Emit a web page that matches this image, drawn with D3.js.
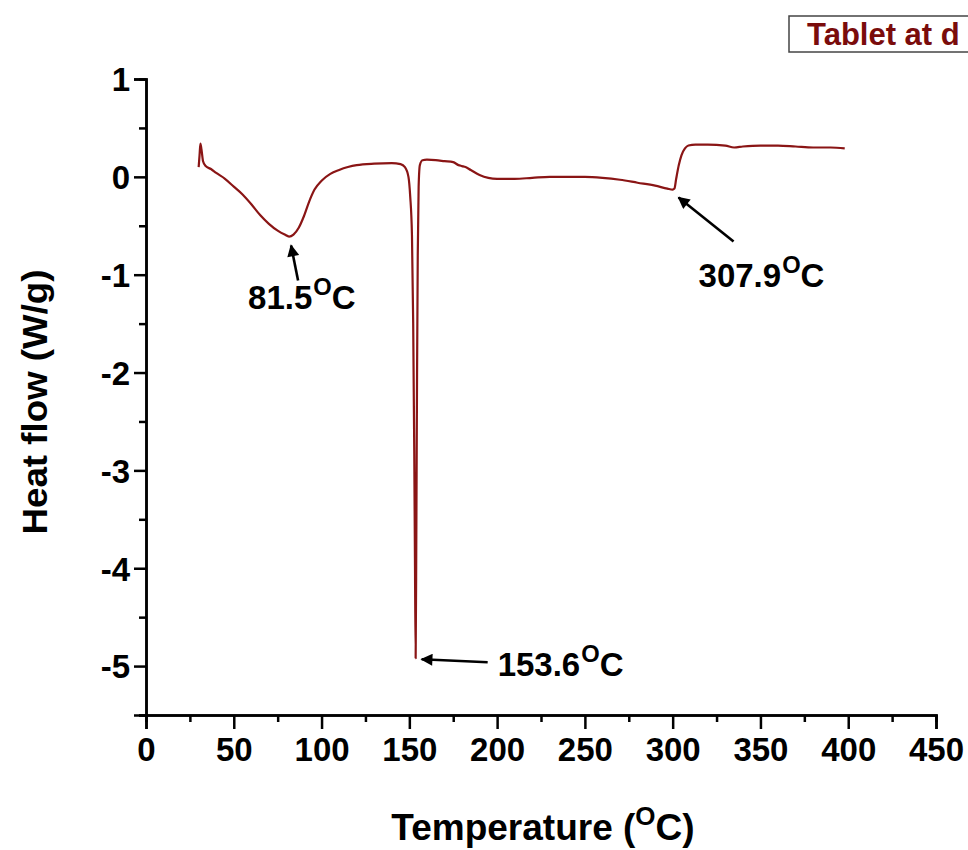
<!DOCTYPE html>
<html>
<head>
<meta charset="utf-8">
<script src="https://cdn.jsdelivr.net/npm/d3@7"></script>
<style>
  html, body { margin: 0; padding: 0; background: #fff; }
  svg { display: block; font-family: "Liberation Sans", Arial, sans-serif; font-weight: bold; }
</style>
</head>
<body>
<svg id="chart" width="968" height="850"></svg>
<script>
// DSC thermogram: heat flow vs temperature
const temperature = [
  30.0, 30.5, 31.0, 31.6, 32.5, 34.0, 37, 40, 45, 50, 55, 60, 65, 70, 75, 79, 81.5, 84, 87, 90,
  93, 96, 100, 105, 110, 115, 120, 130, 140, 145, 147.5, 149.5, 150.5, 151.5, 152.2, 152.8, 153.2,
  153.6, 154.0, 154.4, 154.8, 155.3, 156.0, 157.5, 160, 165, 170, 175, 178, 180, 182, 185, 190,
  195, 200, 210, 220, 230, 240, 250, 260, 270, 280, 290, 297, 300, 301, 302, 303.5, 305, 307,
  309, 313, 320, 330, 335, 340, 350, 360, 370, 380, 390, 398
];
const heatFlow = [
  0.10, 0.22, 0.34, 0.28, 0.16, 0.11, 0.08, 0.04, -0.02, -0.10, -0.18, -0.28, -0.39, -0.48, -0.55,
  -0.59, -0.61, -0.59, -0.52, -0.40, -0.25, -0.13, -0.04, 0.03, 0.07, 0.10, 0.12, 0.135, 0.14, 0.13,
  0.10, 0.0, -0.2, -0.6, -1.5, -2.8, -3.9, -4.92, -3.6, -2.0, -0.8, -0.1, 0.12, 0.17, 0.175, 0.17,
  0.16, 0.15, 0.12, 0.11, 0.10, 0.07, 0.02, -0.01, -0.02, -0.02, -0.01, 0.0, 0.0, 0.0, -0.01, -0.03,
  -0.06, -0.09, -0.12, -0.13, -0.12, -0.02, 0.12, 0.22, 0.29, 0.32, 0.33, 0.33, 0.32, 0.30, 0.31,
  0.32, 0.32, 0.31, 0.30, 0.30, 0.29
];

const xTicks = [0, 50, 100, 150, 200, 250, 300, 350, 400, 450];
const yTicks = [1, 0, -1, -2, -3, -4, -5];

// Peak annotations: label text and the point each arrow points at
const peakLabels = ["81.5", "153.6", "307.9"];
const peakTemps = [81.5, 153.6, 300.5];
const peakFlows = [-0.61, -4.92, -0.13];

const title = "Tablet at d";

const svg = d3.select("#chart");
const x = d3.scaleLinear().domain([0, 450]).range([146, 936]);
const y = d3.scaleLinear().domain([-5.5, 1]).range([715, 79]);

const curveColor = "#8a1515";
const fontFam = "Liberation Sans, Arial, sans-serif";

// arrow marker
svg.append("defs").append("marker")
  .attr("id", "arrowhead")
  .attr("viewBox", "0 0 10 10")
  .attr("refX", 9).attr("refY", 5)
  .attr("markerWidth", 6).attr("markerHeight", 4.6)
  .attr("markerUnits", "strokeWidth")
  .attr("orient", "auto")
  .append("path").attr("d", "M0,0 L10,5 L0,10 Z").attr("fill", "#000");

function styleAxis(g) {
  g.selectAll("path.domain").attr("stroke", "#000").attr("stroke-width", 2.5);
  g.selectAll("line").attr("stroke", "#000").attr("stroke-width", 2.5);
}

// x axis: minor then major ticks
const xAxis = svg.append("g").attr("transform", `translate(0,${y(-5.5)})`);
const xMinor = xAxis.append("g").call(d3.axisBottom(x).tickValues(d3.range(25, 450, 50)).tickSize(7).tickFormat(""));
const xMajor = xAxis.append("g").call(d3.axisBottom(x).tickValues(xTicks).tickSize(14).tickFormat(d3.format("d")));
styleAxis(xMinor); styleAxis(xMajor);
xMajor.selectAll("text").attr("fill", "#000").attr("font-size", 33).attr("font-weight", "bold")
  .attr("font-family", fontFam).attr("dy", "0.72em").attr("y", 22);

// y axis: minor then major ticks
const yAxis = svg.append("g").attr("transform", `translate(${x(0)},0)`);
const yMinor = yAxis.append("g").call(d3.axisLeft(y).tickValues(d3.range(-5.5, 1, 1)).tickSize(7).tickFormat(""));
const yMajor = yAxis.append("g").call(d3.axisLeft(y).tickValues(yTicks).tickSize(12));
styleAxis(yMinor); styleAxis(yMajor);
yMajor.selectAll("text").attr("fill", "#000").attr("font-size", 33).attr("font-weight", "bold")
  .attr("font-family", fontFam).attr("x", -16).attr("dy", "0.36em")
  .text(d => d < 0 ? "-" + Math.abs(d) : d);

// curve
const pts = temperature.map((t, i) => [t, heatFlow[i]]);
svg.append("path")
  .datum(pts)
  .attr("fill", "none")
  .attr("stroke", curveColor)
  .attr("stroke-width", 2.2)
  .attr("stroke-linejoin", "round")
  .attr("d", d3.line().x(d => x(d[0])).y(d => y(d[1])).curve(d3.curveMonotoneX));

// degree-labelled text helper
function degreeText(g, px, py, value, size) {
  const t = g.append("text").attr("x", px).attr("y", py).attr("font-size", size).attr("fill", "#000");
  t.append("tspan").text(value);
  t.append("tspan").attr("font-size", size * 0.72).attr("dy", -size * 0.42).attr("dx", 1).text("O");
  t.append("tspan").attr("dy", size * 0.42).text("C");
  return t;
}

const ann = svg.append("g");
function arrow(x1, y1, x2, y2) {
  ann.append("line")
    .attr("x1", x1).attr("y1", y1).attr("x2", x2).attr("y2", y2)
    .attr("stroke", "#000").attr("stroke-width", 2.6).attr("marker-end", "url(#arrowhead)");
}
// 81.5 °C: arrow from below up to the broad minimum
arrow(x(peakTemps[0]) + 9, y(peakFlows[0]) + 44, x(peakTemps[0]) + 2, y(peakFlows[0]) + 9);
degreeText(ann, x(peakTemps[0]) - 41, y(peakFlows[0]) + 72, peakLabels[0], 33);

// 153.6 °C: horizontal arrow pointing at the sharp melting peak
arrow(x(peakTemps[1]) + 72, y(peakFlows[1]) + 4, x(peakTemps[1]) + 6, y(peakFlows[1]) + 1);
degreeText(ann, x(peakTemps[1]) + 82, y(peakFlows[1]) + 18, peakLabels[1], 33);

// 307.9 °C: diagonal arrow to the step onset
arrow(x(peakTemps[2]) + 60, y(peakFlows[2]) + 52, x(peakTemps[2]) + 5, y(peakFlows[2]) + 8);
degreeText(ann, x(peakTemps[2]) + 25, y(peakFlows[2]) + 97, peakLabels[2], 33);

// axis titles
svg.append("text")
  .attr("transform", `translate(47,${402}) rotate(-90)`)
  .attr("text-anchor", "middle").attr("font-size", 35).attr("fill", "#000")
  .attr("textLength", 265).attr("lengthAdjust", "spacingAndGlyphs")
  .text("Heat flow (W/g)");

const xt = svg.append("text").attr("x", 543).attr("y", 840).attr("text-anchor", "middle")
  .attr("font-size", 37).attr("fill", "#000");
xt.append("tspan").text("Temperature (");
xt.append("tspan").attr("font-size", 26).attr("dy", -15).text("O");
xt.append("tspan").attr("dy", 15).text("C)");

// title box (runs off the right edge)
svg.append("rect").attr("x", 789).attr("y", 16).attr("width", 200).attr("height", 36)
  .attr("fill", "#fff").attr("stroke", "#444").attr("stroke-width", 1.5);
svg.append("text").attr("x", 807).attr("y", 45).attr("font-size", 31).attr("fill", "#7a0c0c")
  .text(title);
</script>
</body>
</html>
